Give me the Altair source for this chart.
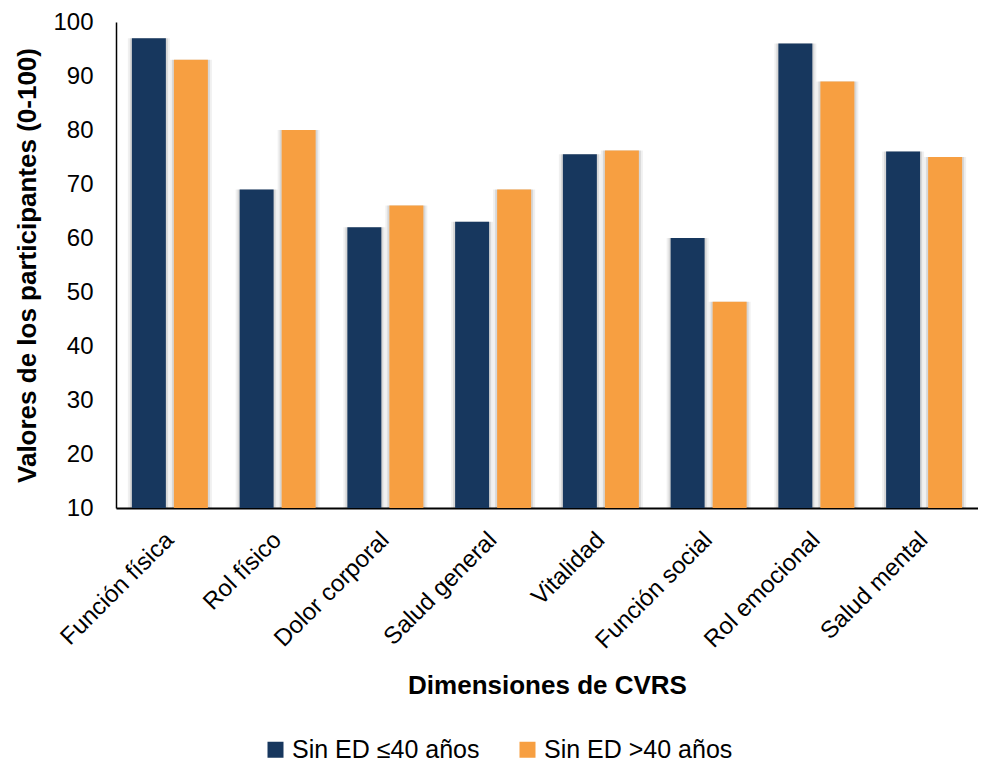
import altair as alt
import pandas as pd

categorias = ["Función física", "Rol físico", "Dolor corporal", "Salud general",
              "Vitalidad", "Función social", "Rol emocional", "Salud mental"]
grupos = ["Sin ED ≤40 años", "Sin ED >40 años"]
menor40 = [97, 69, 62, 63, 75.5, 60, 96, 76]
mayor40 = [93, 80, 66, 69, 76.2, 48.2, 89, 75]
colores = ["#17375E", "#F79F41"]

rows = []
for c, a, b in zip(categorias, menor40, mayor40):
    rows.append({"cat": c, "grupo": grupos[0], "valor": a, "base": 10})
    rows.append({"cat": c, "grupo": grupos[1], "valor": b, "base": 10})
df = pd.DataFrame(rows)

FONT = "Liberation Sans"

x = alt.X("cat:N", sort=categorias,
          scale=alt.Scale(paddingInner=0.22, paddingOuter=0.11),
          axis=alt.Axis(title="Dimensiones de CVRS", labelAngle=-45, labelAlign="right",
                        labelBaseline="middle", labelFontSize=24, labelFont=FONT,
                        labelColor="black", titleFont=FONT, titleFontSize=26,
                        titleFontWeight="bold", titleColor="black", titlePadding=20,
                        ticks=False, domainColor="black", domainWidth=2, labelPadding=28,
                        labelLimit=400, grid=False))
y = alt.Y("valor:Q", scale=alt.Scale(domain=[10, 100], nice=False, zero=False),
          axis=alt.Axis(title="Valores de los participantes (0-100)", values=list(range(10, 101, 10)),
                        labelFontSize=24, labelFont=FONT, labelColor="black",
                        titleFont=FONT, titleFontSize=26, titleFontWeight="bold",
                        titleColor="black", ticks=False, grid=False, domainColor="black",
                        domainWidth=1.5, labelPadding=23, titlePadding=12, titleLimit=700))
y2 = alt.Y2("base:Q")
xo = alt.XOffset("grupo:N", sort=grupos, scale=alt.Scale(paddingInner=0, paddingOuter=0))

shadow1 = alt.Chart(df).mark_bar(size=42, color="#000000", opacity=0.06).encode(
    x=x, y=y, y2=y2, xOffset=xo)
shadow2 = alt.Chart(df).mark_bar(size=38, color="#000000", opacity=0.10, xOffset=1).encode(
    x=x, y=y, y2=y2, xOffset=xo)

bars = alt.Chart(df).mark_bar(size=34).encode(
    x=x, y=y, y2=y2, xOffset=xo,
    color=alt.Color("grupo:N", sort=grupos,
                    scale=alt.Scale(domain=grupos, range=colores),
                    legend=alt.Legend(title=None, orient="none", legendX=147, legendY=715,
                                      direction="horizontal", symbolType="square",
                                      symbolSize=256, labelFontSize=25, labelFont=FONT,
                                      labelColor="black", columnPadding=35, labelLimit=400,
                                      symbolStrokeWidth=0, padding=0, labelOffset=4)))

chart = alt.layer(shadow1, shadow2, bars).properties(
    width=862, height=486, background="white",
    autosize=alt.AutoSizeParams(type="none"),
    padding={"left": 108, "top": 14, "right": 0, "bottom": 258},
).configure_view(stroke=None).configure_axis(grid=False)

chart.save("out.html", embed_options={"renderer": "svg", "actions": False})
